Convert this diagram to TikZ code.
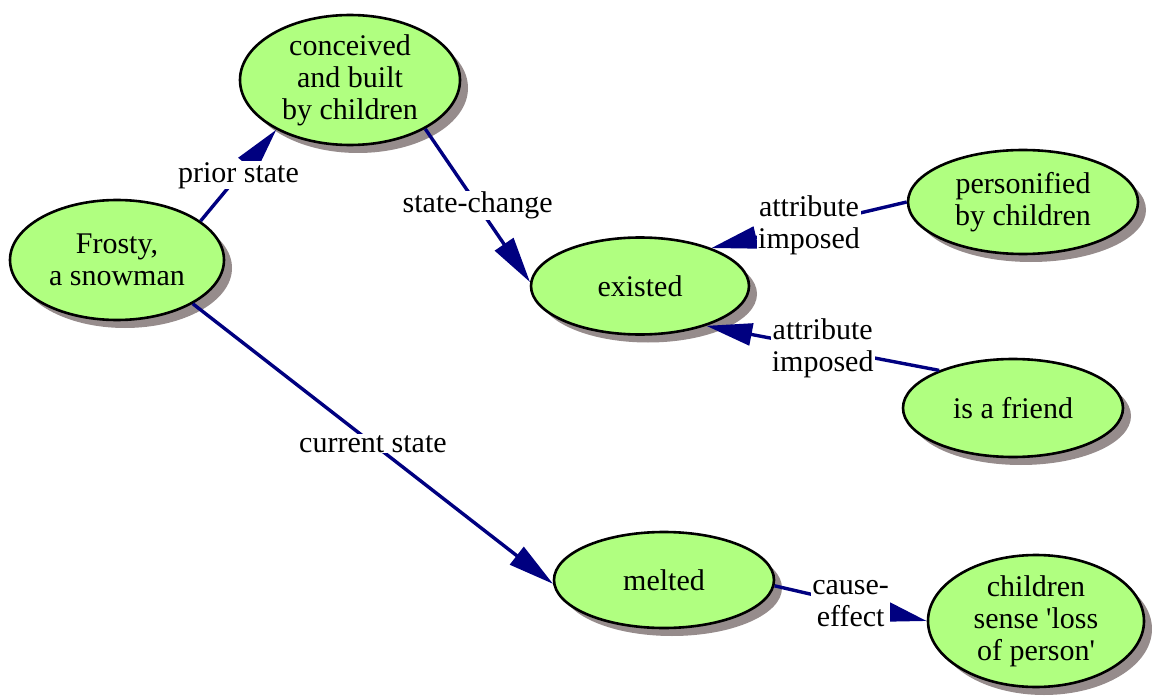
\documentclass[tikz,border=0pt]{standalone}
\usepackage{fontspec}
\setmainfont{Liberation Serif}
\usetikzlibrary{shapes.geometric,arrows.meta,shadows}
\definecolor{nodefill}{RGB}{176,255,128}
\definecolor{shadowc}{RGB}{150,140,140}
\definecolor{edgec}{RGB}{0,0,128}
\begin{document}
\begin{tikzpicture}[x=1pt,y=-1pt,
  concept/.style={ellipse, draw=black, line width=2.6pt, fill=nodefill, inner sep=0pt,
    align=center, font=\fontsize{30}{32}\selectfont,
    general shadow={fill=shadowc, shadow xshift=8pt, shadow yshift=-8pt}},
  link/.style={draw=edgec, line width=3.4pt, -{Triangle[length=46pt,width=22pt]}},
  lbl/.style={fill=white, inner sep=1pt, align=center, font=\fontsize{30}{32}\selectfont, text=black}]
\useasboundingbox (0,0) rectangle (1152,698);

\node[concept, minimum width=220pt, minimum height=130pt] (conceived) at (350,80) {conceived\\and built\\by children};
\node[concept, minimum width=214pt, minimum height=120pt] (frosty) at (117,260) {Frosty,\\a snowman};
\node[concept, minimum width=218pt, minimum height=97pt] (existed) at (640,286) {existed};
\node[concept, minimum width=230pt, minimum height=104pt] (personified) at (1023,202) {personified\\by children};
\node[concept, minimum width=220pt, minimum height=98pt] (friend) at (1013,408) {is a friend};
\node[concept, minimum width=220pt, minimum height=96pt] (melted) at (664,580) {melted};
\node[concept, minimum width=216pt, minimum height=132pt] (children) at (1036,621) {children\\sense \textquotesingle loss\\of person\textquotesingle};

\draw[link] (frosty.25) -- (conceived.214) node[lbl, midway] {prior state};
\draw[link] (conceived.327) -- (existed.178) node[lbl, midway] {state-change};
\draw[link] (personified.180) -- (existed.28) node[lbl, midway] {attribute\\imposed};
\draw[link] (friend.153) -- (existed.329) node[lbl, midway] {attribute\\imposed};
\draw[link] (frosty.330) -- (melted.182) node[lbl, midway] {current state};
\draw[link] (melted.357) -- (children.180) node[lbl, midway] {cause-\\effect};
\end{tikzpicture}
\end{document}
